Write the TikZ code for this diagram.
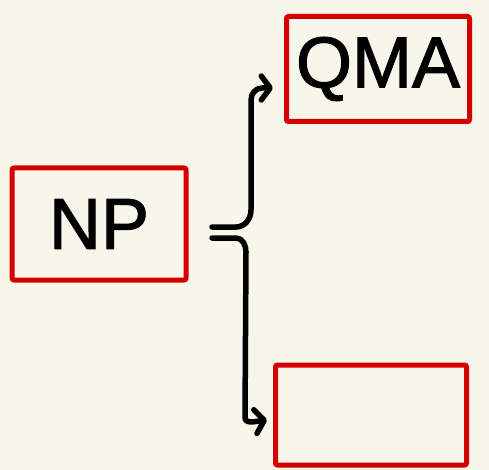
\documentclass[tikz,border=0pt]{standalone}
\usepackage{fontspec}
\setmainfont{Liberation Sans}
\newfontfamily\penfont[FakeBold=1.6]{Liberation Sans}
\usetikzlibrary{arrows.meta}
\definecolor{paper}{HTML}{F8F6EA}
\definecolor{penred}{HTML}{D40000}
\tikzset{
  redbox/.style={draw=penred, line width=5pt, rounded corners=2pt, inner sep=0pt,
    font=\penfont\fontsize{72}{72}\selectfont},
  link/.style={line width=5.5pt, line cap=round, line join=round,
    -{Straight Barb[length=9pt, width=24pt, line cap=round, line join=round]}}
}
\begin{document}
\begin{tikzpicture}[x=1pt, y=-1pt]
\fill[paper] (0,0) rectangle (489,470);
\useasboundingbox (0,0) rectangle (489,470);

% the three boxes
\node[redbox, minimum width=174pt, minimum height=112pt] (np) at (99,224) {NP};
\node[redbox, minimum width=183pt, minimum height=105pt] (qma) at (378,69) {QMA};
\node[redbox, minimum width=191pt, minimum height=100pt] (empty) at (371,415) {};

% brace ends
\coordinate (upstart) at (212,227);
\coordinate (downstart) at (212,238);
\coordinate (qmain) at (273,88);
\coordinate (emptyin) at (267,420);

% upper and lower branch
\draw[link] (upstart) -- (236,227) to[out=0,in=-90] (251,210) -- (251,100)
  to[out=90,in=180] (262,88) -- (qmain);
\draw[link] (downstart) -- (236,238) to[out=0,in=90] (246,252) -- (245,418)
  to[out=-90,in=180] (252,422) -- (emptyin);
\end{tikzpicture}
\end{document}
